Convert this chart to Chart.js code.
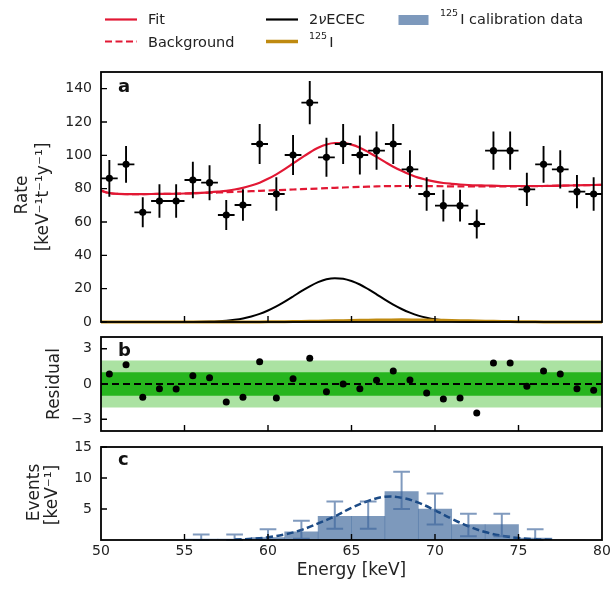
<!DOCTYPE html>
<html><head><meta charset="utf-8">
<script src="https://cdn.jsdelivr.net/npm/chart.js@4.4.1/dist/chart.umd.min.js"></script>
<style>
html,body{margin:0;padding:0;background:#fff;}
#wrap{position:relative;width:611px;height:590px;overflow:hidden;background:#fff;}
canvas{position:absolute;left:0;}
</style></head><body>
<div id="wrap">
<canvas id="ca" width="611" height="330" style="top:0px"></canvas>
<canvas id="cb" width="611" height="106" style="top:330px"></canvas>
<canvas id="cc" width="611" height="154" style="top:436px"></canvas>
</div>
<script>
// ---------------- data ----------------
const energyBins = [50.5,51.5,52.5,53.5,54.5,55.5,56.5,57.5,58.5,59.5,60.5,61.5,62.5,63.5,64.5,65.5,66.5,67.5,68.5,69.5,70.5,71.5,72.5,73.5,74.5,75.5,76.5,77.5,78.5,79.5];
const rateVals = [86.2,94.6,65.8,72.6,72.6,85.2,83.6,64.2,70.2,106.8,76.8,100.2,131.6,98.8,106.8,100.2,102.8,106.8,91.6,76.8,69.8,69.8,58.8,102.8,102.8,79.6,94.6,91.6,78.2,76.8];
const rateErr = [11,11,9,10,10,11,10.5,9,9.5,12,10,12,13,11.7,12,11.7,11.5,12,11.5,10,9.5,9.5,8.7,11.5,11.5,10,11,11.5,10,10];
const binHalfWidth = 0.5;

const residVals = [0.85,1.64,-1.13,-0.40,-0.42,0.70,0.53,-1.53,-1.13,1.89,-1.19,0.45,2.2,-0.65,0.0,-0.40,0.31,1.10,0.33,-0.76,-1.27,-1.19,-2.46,1.78,1.78,-0.20,1.10,0.85,-0.40,-0.54];
const bandInner = [-1, 1];
const bandOuter = [-2, 2];

// model curves
const fitE    = [50,50.5,51,52,53,54,55,56,56.5,57,57.5,58,58.5,59,59.5,60,60.5,61,61.5,62,62.5,63,63.5,64,64.5,65,65.5,66,66.5,67,67.5,68,68.5,69,69.5,70,70.5,71,71.5,72,72.5,73,74,75,76,77,78,79,80];
const fitVals = [78.8,77.3,76.9,76.7,76.8,76.9,77.1,77.5,77.8,78.2,78.7,79.5,80.5,81.9,83.6,85.9,88.6,91.7,95.1,98.5,101.7,104.5,106.5,107.4,107.4,106.4,104.6,102.0,99.1,96.1,93.2,90.7,88.5,86.6,85.3,84.2,83.4,82.9,82.5,82.2,82.0,81.9,81.6,81.6,81.6,81.7,81.9,82.1,82.3];
const curveE   = [50,50.5,51,52,53,54,55,56,57,58,59,60,61,62,63,64,65,66,67,68,69,70,71,72,73,74,75,76,77,78,79,80];
const bkgVals  = [78.8,77.3,76.9,76.7,76.8,76.9,77.1,77.4,77.7,78.1,78.5,78.9,79.3,79.7,80.1,80.5,80.9,81.2,81.5,81.6,81.6,81.5,81.4,81.3,81.3,81.3,81.4,81.5,81.7,81.9,82.1,82.3];
const i125Vals = [0,0,0,0,0,0,0,0,0,0,0.05,0.1,0.2,0.3,0.5,0.7,0.9,1.1,1.2,1.3,1.2,1.1,0.9,0.7,0.5,0.3,0.2,0.1,0,0,0,0];
const ececE    = [55,55.5,56,56.5,57,57.5,58,58.5,59,59.5,60,60.5,61,61.5,62,62.5,63,63.5,64,64.5,65,65.5,66,66.5,67,67.5,68,68.5,69,69.5,70,70.5,71,71.5,72,72.5,73,73.5,74];
const ececVals = [0.03,0.07,0.14,0.26,0.47,0.81,1.35,2.14,3.3,4.84,6.9,9.33,12.2,15.3,18.5,21.4,23.9,25.6,26.3,26.0,24.6,22.5,19.7,16.6,13.4,10.4,7.8,5.6,3.8,2.55,1.6,0.99,0.6,0.33,0.18,0.09,0.05,0.02,0];

const calibE    = [56,58,60,62,64,66,68,70,72,74,76,78];
const calibVals = [0.15,0.15,0.4,1.3,3.8,3.8,7.8,5.0,2.5,2.5,0.3,0];
const calibLo   = [0,0,0,0.2,1.8,1.8,5.0,2.5,0.6,0.6,0,null];
const calibHi   = [0.9,0.9,1.75,3.1,6.2,6.2,11.0,7.5,4.25,4.25,1.75,null];
const calibCurveE   = [58,59,60,61,62,63,64,65,66,67,68,69,70,71,72,73,74,75,76,77];
const calibCurveVals= [0.08,0.19,0.44,0.89,1.62,2.67,3.8,5.2,6.3,6.97,6.82,6.02,4.79,3.43,2.22,1.29,0.68,0.32,0.14,0.05];

const xTickMarks  = [55,60,65,70,75];
const xTickLabels = [50,55,60,65,70,75,80];
const rateTicks   = [0,20,40,60,80,100,120,140];
const residTicks  = [-3,0,3];
const eventTicks  = [5,10,15];

// ---------------- style ----------------
const FONT = "'DejaVu Sans', sans-serif";
const TXT = '#222';
const RED = 'rgb(226,24,52)';
const GOLD = '#bf8a10';
const BAR = 'rgba(70,110,160,0.7)';
const ERRC = 'rgba(60,100,155,0.65)';
const DKBLUE = '#1c4b86';
const GREEN_D = '#27b51e';
const GREEN_L = '#abe2a2';
Chart.defaults.font.family = FONT;

const fmt = v => v < 0 ? '\u2212' + (-v) : String(v);
const pts = (xs, ys) => xs.map((x, i) => ({x, y: ys[i]}));

const errBars = {
  id: 'errBars',
  afterDatasetsDraw(chart) {
    const {ctx, scales: {x: xs, y: ys}} = chart;
    chart.data.datasets.forEach(ds => {
      const eb = ds.errorBars; if (!eb) return;
      ctx.save();
      ctx.strokeStyle = eb.color; ctx.lineWidth = eb.width; ctx.lineCap = 'butt';
      ctx.beginPath();
      ds.data.forEach((p, j) => {
        const lo = eb.lo[j], hi = eb.hi[j];
        if (lo == null) return;
        const px = xs.getPixelForValue(p.x);
        ctx.moveTo(px, ys.getPixelForValue(lo)); ctx.lineTo(px, ys.getPixelForValue(hi));
        if (eb.xHalf) {
          const py = ys.getPixelForValue(p.y);
          ctx.moveTo(xs.getPixelForValue(p.x - eb.xHalf), py); ctx.lineTo(xs.getPixelForValue(p.x + eb.xHalf), py);
        }
        if (eb.cap) {
          [lo, hi].forEach(v => { const py = ys.getPixelForValue(v);
            ctx.moveTo(xs.getPixelForValue(p.x - eb.cap), py); ctx.lineTo(xs.getPixelForValue(p.x + eb.cap), py); });
        }
      });
      ctx.stroke(); ctx.restore();
    });
  }
};

const frameTicks = {
  id: 'frameTicks',
  afterDatasetsDraw(chart, args, o) {
    const {ctx, chartArea: a, scales: {x, y}} = chart;
    ctx.save();
    ctx.strokeStyle = '#000'; ctx.lineWidth = 1.4; ctx.setLineDash([]);
    ctx.beginPath();
    (o.xTicks || []).forEach(v => { const px = x.getPixelForValue(v); ctx.moveTo(px, a.bottom); ctx.lineTo(px, a.bottom - o.len); });
    (o.yTicks || []).forEach(v => { const py = y.getPixelForValue(v); ctx.moveTo(a.left, py); ctx.lineTo(a.left + o.len, py); });
    ctx.stroke();
    ctx.lineWidth = 1.8;
    ctx.strokeRect(a.left, a.top, a.right - a.left, a.bottom - a.top);
    // tick labels
    ctx.fillStyle = TXT; ctx.font = '14px ' + FONT;
    ctx.textAlign = 'right'; ctx.textBaseline = 'middle';
    (o.yTicks || []).forEach(v => ctx.fillText(fmt(v), a.left - 9, y.getPixelForValue(v)));
    if (o.xLabels) {
      ctx.textAlign = 'center'; ctx.textBaseline = 'alphabetic';
      o.xLabels.forEach(v => ctx.fillText(fmt(v), x.getPixelForValue(v), a.bottom + 15));
    }
    // panel letter
    ctx.fillStyle = '#111';
    ctx.font = 'bold 18px ' + FONT; ctx.textAlign = 'left'; ctx.textBaseline = 'alphabetic';
    ctx.fillText(o.letter, a.left + 17, a.top + o.letterDy);
    // axis titles
    ctx.fillStyle = TXT;
    ctx.font = '17px ' + FONT; ctx.textAlign = 'center';
    (o.titles || []).forEach(t => {
      ctx.save(); ctx.translate(t.x, (a.top + a.bottom) / 2 + t.dy); ctx.rotate(-Math.PI / 2);
      ctx.fillText(t.text, 0, 0); ctx.restore();
    });
    if (o.xTitle) { ctx.fillText(o.xTitle.text, (a.left + a.right) / 2, a.bottom + o.xTitle.dy); }
    ctx.restore();
  }
};

const topLegend = {
  id: 'topLegend',
  afterDraw(chart) {
    const ctx = chart.ctx;
    ctx.save();
    const seg = (x1, x2, y, c, w, dash) => { ctx.beginPath(); ctx.setLineDash(dash || []); ctx.strokeStyle = c; ctx.lineWidth = w;
      ctx.moveTo(x1, y); ctx.lineTo(x2, y); ctx.stroke(); ctx.setLineDash([]); };
    const f = '14.5px ' + FONT;
    const sup = (s, rest, x, y) => { ctx.font = '9.5px ' + FONT; ctx.fillText(s, x, y - 8); x += ctx.measureText(s).width + 2;
      ctx.font = f; ctx.fillText(rest, x, y); };
    ctx.fillStyle = TXT; ctx.textAlign = 'left'; ctx.textBaseline = 'alphabetic'; ctx.font = f;
    seg(105, 137, 19.5, RED, 2.2); ctx.fillText('Fit', 148, 24);
    seg(105, 137, 41.5, RED, 2.2, [7, 3.5]); ctx.fillText('Background', 148, 46.5);
    seg(266, 298, 19.5, '#000', 2.2);
    let x = 309; ctx.fillText('2', x, 24); x += ctx.measureText('2').width;
    ctx.font = 'oblique 14.5px ' + FONT; ctx.fillText('\u03bd', x, 24); x += ctx.measureText('\u03bd').width;
    ctx.font = f; ctx.fillText('ECEC', x, 24);
    seg(266, 298, 41.5, GOLD, 3.5);
    sup('125', 'I', 309, 46.5);
    ctx.fillStyle = BAR; ctx.fillRect(398.5, 15, 30, 10);
    ctx.fillStyle = TXT;
    sup('125', 'I calibration data', 440, 24);
    ctx.restore();
  }
};

const baseX = h => ({
  type: 'linear', min: 50, max: 80, offset: false,
  grid: {display: false}, border: {display: false}, ticks: {display: false},
  afterFit: s => { s.height = h; }
});
const baseY = (min, max) => ({
  min, max, grid: {display: false}, border: {display: false}, ticks: {display: false},
  afterFit: s => { s.width = 101; }
});
const common = {responsive: false, animation: false, events: []};

// ---------------- panel a ----------------
new Chart(document.getElementById('ca'), {
  type: 'line',
  data: {datasets: [
    {label: 'Data', data: pts(energyBins, rateVals), showLine: false, pointRadius: 3.6, pointBackgroundColor: '#000', pointBorderWidth: 0, order: 0,
     errorBars: {lo: rateVals.map((v, i) => v - rateErr[i]), hi: rateVals.map((v, i) => v + rateErr[i]), xHalf: binHalfWidth, color: '#000', width: 1.9}},
    {label: 'Fit', data: pts(fitE, fitVals), borderColor: RED, borderWidth: 2.2, pointRadius: 0, cubicInterpolationMode: 'monotone', order: 1},
    {label: 'Background', data: pts(curveE, bkgVals), borderColor: RED, borderWidth: 2.2, borderDash: [7, 3.5], pointRadius: 0, tension: 0.4, order: 2},
    {label: '125I', data: pts(curveE, i125Vals), borderColor: GOLD, borderWidth: 3, pointRadius: 0, tension: 0.4, clip: 4, order: 3},
    {label: '2\u03bdECEC', data: pts(ececE, ececVals), borderColor: '#000', borderWidth: 2, pointRadius: 0, cubicInterpolationMode: 'monotone', clip: 4, order: 4}
  ]},
  options: Object.assign({}, common, {
    layout: {autoPadding: false, padding: {top: 72, left: 0, right: 9, bottom: 0}},
    plugins: {legend: {display: false}, tooltip: {enabled: false},
      frameTicks: {xTicks: xTickMarks, yTicks: rateTicks, len: 6, letter: 'a', letterDy: 20,
        titles: [{text: 'Rate', x: 27, dy: -2}, {text: '[keV\u207b\u00b9t\u207b\u00b9y\u207b\u00b9]', x: 47.5, dy: 0}]}},
    scales: {x: baseX(8), y: baseY(0, 150)}
  }),
  plugins: [errBars, frameTicks, topLegend]
});

// ---------------- panel b ----------------
const flat = v => [{x: 50, y: v}, {x: 80, y: v}];
new Chart(document.getElementById('cb'), {
  type: 'line',
  data: {datasets: [
    {label: 'Residual', data: pts(energyBins, residVals), showLine: false, pointRadius: 3.5, pointBackgroundColor: '#000', pointBorderWidth: 0, order: 0},
    {label: 'zero', data: flat(0), borderColor: '#000', borderWidth: 1.8, borderDash: [7, 4], pointRadius: 0, order: 1},
    {label: '1 sigma', data: flat(bandInner[1]), borderWidth: 0, pointRadius: 0, fill: '+1', backgroundColor: GREEN_D, order: 2},
    {label: '1 sigma low', data: flat(bandInner[0]), borderWidth: 0, pointRadius: 0, order: 2},
    {label: '2 sigma', data: flat(bandOuter[1]), borderWidth: 0, pointRadius: 0, fill: '+1', backgroundColor: GREEN_L, order: 3},
    {label: '2 sigma low', data: flat(bandOuter[0]), borderWidth: 0, pointRadius: 0, order: 3}
  ]},
  options: Object.assign({}, common, {
    layout: {autoPadding: false, padding: {top: 7, left: 0, right: 9, bottom: 0}},
    plugins: {legend: {display: false}, tooltip: {enabled: false},
      frameTicks: {xTicks: xTickMarks, yTicks: residTicks, len: 6, letter: 'b', letterDy: 19,
        titles: [{text: 'Residual', x: 58.5, dy: 0}]}},
    scales: {x: baseX(5), y: baseY(-4, 4)}
  }),
  plugins: [frameTicks]
});

// ---------------- panel c ----------------
new Chart(document.getElementById('cc'), {
  type: 'bar',
  data: {datasets: [
    {type: 'line', label: 'Calibration fit', data: pts(calibCurveE, calibCurveVals), borderColor: DKBLUE, borderWidth: 2.5, borderDash: [7, 3.5], pointRadius: 0, tension: 0.4, order: 0},
    {type: 'bar', label: '125I calibration data', data: pts(calibE, calibVals), backgroundColor: BAR, borderWidth: 0, barPercentage: 1, categoryPercentage: 1, order: 1,
     errorBars: {lo: calibLo, hi: calibHi, cap: 0.5, color: ERRC, width: 2}}
  ]},
  options: Object.assign({}, common, {
    layout: {autoPadding: false, padding: {top: 11, left: 0, right: 9, bottom: 0}},
    plugins: {legend: {display: false}, tooltip: {enabled: false},
      frameTicks: {xTicks: xTickMarks, yTicks: eventTicks, xLabels: xTickLabels, len: 6, letter: 'c', letterDy: 18,
        titles: [{text: 'Events', x: 39, dy: -1}, {text: '[keV\u207b\u00b9]', x: 56.5, dy: 1.5}],
        xTitle: {text: 'Energy [keV]', dy: 35}}},
    scales: {x: baseX(50), y: baseY(0, 15)}
  }),
  plugins: [errBars, frameTicks]
});
</script>
</body></html>
